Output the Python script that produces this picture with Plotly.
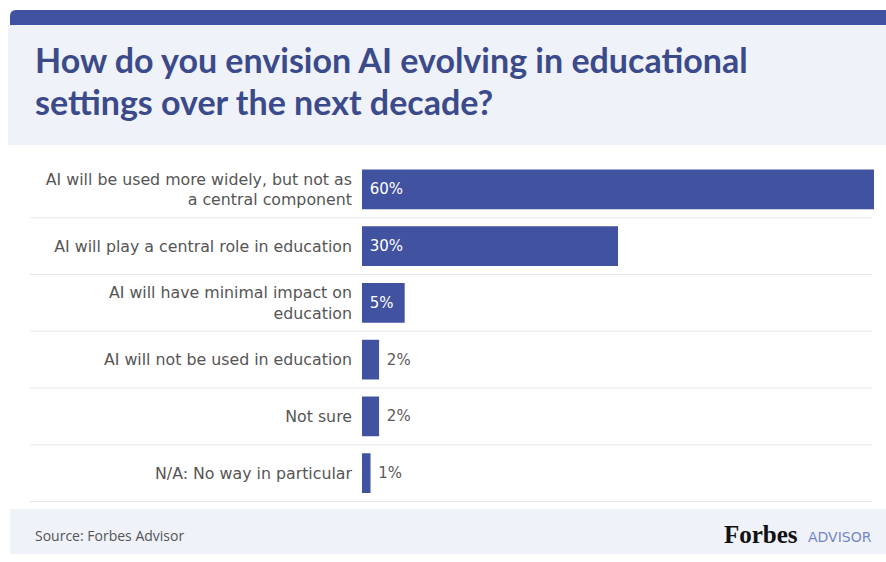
import plotly.graph_objects as go

W, H = 886, 562

categories = [
    "AI will be used more widely, but not as<br>a central component",
    "AI will play a central role in education",
    "AI will have minimal impact on<br>education",
    "AI will not be used in education",
    "Not sure",
    "N/A: No way in particular",
]
values = [60, 30, 5, 2, 2, 1]
inside = [v >= 5 for v in values]

title_lines = ["How do you envision AI evolving in educational",
               "settings over the next decade?"]
source_text = "Source: Forbes Advisor"

BAR = "#4152a1"
TITLE = "#3b4a8b"
PANEL = "#eff2f9"
LABEL = "#555555"


def px(x):
    return x / W


def py(y):
    return 1 - y / H


fig = go.Figure()
fig.add_trace(go.Bar(
    y=categories,
    x=values,
    orientation="h",
    marker=dict(color=BAR, line=dict(width=0)),
    width=0.70,
    text=[f"\u00a0{v}%" for v in values],
    textposition=["inside" if i else "outside" for i in inside],
    insidetextanchor="start",
    constraintext="none",
    textfont=dict(color=["white" if i else "#5a5a5a" for i in inside], size=15,
                  family="DejaVu Sans"),
    cliponaxis=False,
    hoverinfo="skip",
))

shapes = []
# top band with rounded left corner
r = 6
x0, x1, y0, y1 = 10, W, 10, 25
shapes.append(dict(
    type="path", xref="paper", yref="paper",
    path=(f"M {px(x0)},{py(y1)} L {px(x0)},{py(y0 + r)} "
          f"Q {px(x0)},{py(y0)} {px(x0 + r)},{py(y0)} "
          f"L {px(x1)},{py(y0)} L {px(x1)},{py(y1)} Z"),
    fillcolor=BAR, line=dict(width=0), layer="below",
))
# title panel
shapes.append(dict(type="rect", xref="paper", yref="paper",
                   x0=px(8), x1=px(W), y0=py(145), y1=py(25),
                   fillcolor=PANEL, line=dict(width=0), layer="below"))
# footer panel
shapes.append(dict(type="rect", xref="paper", yref="paper",
                   x0=px(10), x1=px(W), y0=py(554), y1=py(509),
                   fillcolor=PANEL, line=dict(width=0), layer="below"))
# separators between rows
for k in range(len(categories)):
    shapes.append(dict(type="line", xref="paper", yref="y",
                       x0=px(30), x1=px(872), y0=k + 0.5, y1=k + 0.5,
                       line=dict(color="#e6e8ee", width=1), layer="below"))

annotations = [
    dict(text=f"<b>{title_lines[0]}</b>", xref="paper", yref="paper",
         x=px(33), y=py(60), xanchor="left", yanchor="middle", align="left",
         showarrow=False, font=dict(family="Lato", size=34, color=TITLE)),
    dict(text=f"<b>{title_lines[1]}</b>", xref="paper", yref="paper",
         x=px(33), y=py(101), xanchor="left", yanchor="middle", align="left",
         showarrow=False, font=dict(family="Lato", size=34, color=TITLE)),
    dict(text=source_text, xref="paper", yref="paper",
         x=px(33), y=py(535), xanchor="left", yanchor="middle",
         showarrow=False, font=dict(family="Open Sans", size=14, color="#555555")),
    dict(text="<b>Forbes</b>", xref="paper", yref="paper",
         x=px(722), y=py(534), xanchor="left", yanchor="middle",
         showarrow=False, font=dict(family="Liberation Serif", size=25, color="#111111")),
    dict(text="ADVISOR", xref="paper", yref="paper",
         x=px(874), y=py(537), xanchor="right", yanchor="middle",
         showarrow=False, font=dict(family="DejaVu Sans", size=14, color="#7686c6")),
]

fig.update_layout(
    width=W, height=H,
    margin=dict(l=0, r=0, t=0, b=0),
    paper_bgcolor="white",
    plot_bgcolor="rgba(0,0,0,0)",
    showlegend=False,
    shapes=shapes,
    annotations=annotations,
    xaxis=dict(domain=[px(362), px(874)], range=[0, 60], visible=False, fixedrange=True),
    yaxis=dict(domain=[py(502), py(161)], autorange="reversed", showgrid=False,
               zeroline=False, showline=False, ticks="", automargin=False,
               ticklabelstandoff=9,
               tickfont=dict(family="DejaVu Sans", size=15.8, color=LABEL), fixedrange=True),
    font=dict(family="Lato"),
)

fig.write_html("out.html")
